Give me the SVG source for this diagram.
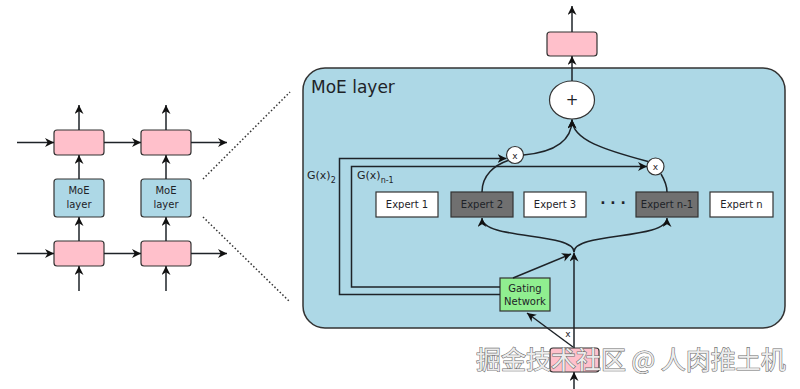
<svg xmlns="http://www.w3.org/2000/svg" width="800" height="389" viewBox="0 0 800 389">
<style>
  text { font-family: "DejaVu Sans", "Liberation Sans", sans-serif; fill: #1e2328; }
  .pink { fill: #ffc0cb; stroke: #333; stroke-width: 1.2; }
  .moe { fill: #add8e6; stroke: #333; stroke-width: 1.2; }
  .ln { fill: none; stroke: #1e2328; stroke-width: 1.5; }
  .dot { fill: none; stroke: #333; stroke-width: 1.5; stroke-dasharray: 1.5 2.2; }
  .exw { fill: #ffffff; stroke: #333; stroke-width: 1.2; }
  .exg { fill: #707070; stroke: #333; stroke-width: 1.2; }
  .circ { fill: #ffffff; stroke: #333; stroke-width: 1.2; }
  .t10 { font-size: 10px; text-anchor: middle; }
  .wm { font-family: "Noto Sans CJK SC", "DejaVu Sans", sans-serif; font-size: 25px; fill: #ececec; stroke: #6a6a6a; stroke-width: 1.1; paint-order: stroke; }
</style>
<defs>
  <marker id="ah" viewBox="0 0 10 10" refX="10" refY="5" markerWidth="9" markerHeight="9" markerUnits="userSpaceOnUse" orient="auto">
    <path d="M0,0 L10,5 L0,10 L3,5 z" fill="#111"/>
  </marker>
</defs>

<!-- big MoE layer container -->
<g id="moe-container">
  <rect x="303" y="68" width="482" height="260" rx="22" ry="22" fill="#add8e6" stroke="#333" stroke-width="1.5"/>
  <text x="311" y="93" style="font-size:17px">MoE layer</text>
</g>

<!-- left stack -->
<g id="left-top-1"><rect class="pink" x="54" y="130" width="50" height="25" rx="3"/></g>
<g id="left-top-2"><rect class="pink" x="141" y="130" width="50" height="25" rx="3"/></g>
<g id="left-moe-1"><rect class="moe" x="54" y="179" width="50" height="38" rx="3"/>
  <text class="t10" x="79" y="194">MoE</text><text class="t10" x="79" y="208">layer</text></g>
<g id="left-moe-2"><rect class="moe" x="141" y="179" width="50" height="38" rx="3"/>
  <text class="t10" x="166" y="194">MoE</text><text class="t10" x="166" y="208">layer</text></g>
<g id="left-bot-1"><rect class="pink" x="54" y="241" width="50" height="25" rx="3"/></g>
<g id="left-bot-2"><rect class="pink" x="141" y="241" width="50" height="25" rx="3"/></g>

<!-- right nodes -->
<g id="out-box"><rect class="pink" x="547" y="32" width="50" height="24" rx="3"/></g>
<g id="sum"><ellipse class="circ" cx="572" cy="100" rx="22.5" ry="19"/>
  <text x="572" y="105" style="font-size:15px;text-anchor:middle">+</text></g>
<g id="mul-2"><circle class="circ" cx="515" cy="155" r="8.5"/>
  <text x="515" y="158.5" style="font-size:9px;text-anchor:middle">x</text></g>
<g id="mul-n1"><circle class="circ" cx="655.5" cy="166.5" r="8.5"/>
  <text x="655.5" y="170" style="font-size:9px;text-anchor:middle">x</text></g>

<g id="expert-1"><rect class="exw" x="376" y="192" width="62" height="25"/><text class="t10" x="407" y="208">Expert 1</text></g>
<g id="expert-2"><rect class="exg" x="451" y="192" width="62" height="25"/><text class="t10" x="482" y="208">Expert 2</text></g>
<g id="expert-3"><rect class="exw" x="524" y="192" width="62" height="25"/><text class="t10" x="555" y="208">Expert 3</text></g>
<g id="dots"><text x="613" y="208" style="font-size:14px;font-weight:bold;text-anchor:middle">· · ·</text></g>
<g id="expert-n1"><rect class="exg" x="636" y="192" width="62" height="25"/><text class="t10" x="667" y="208">Expert n-1</text></g>
<g id="expert-n"><rect class="exw" x="710" y="192" width="63" height="25"/><text class="t10" x="741.5" y="208">Expert n</text></g>

<g id="gating"><rect x="500" y="278" width="50" height="33" fill="#90ee90" stroke="#333" stroke-width="1.2"/>
  <text class="t10" x="525" y="292">Gating</text><text class="t10" x="525" y="305">Network</text></g>

<g id="in-box"><rect class="pink" x="550" y="348" width="49" height="24" rx="3"/></g>

<!-- connectors -->
<g id="connectors">
  <!-- left rows -->
  <line class="ln" x1="17" y1="142.5" x2="54" y2="142.5" marker-end="url(#ah)"/>
  <line class="ln" x1="104" y1="142.5" x2="141" y2="142.5" marker-end="url(#ah)"/>
  <line class="ln" x1="191" y1="142.5" x2="227" y2="142.5" marker-end="url(#ah)"/>
  <line class="ln" x1="17" y1="253.5" x2="54" y2="253.5" marker-end="url(#ah)"/>
  <line class="ln" x1="104" y1="253.5" x2="141" y2="253.5" marker-end="url(#ah)"/>
  <line class="ln" x1="191" y1="253.5" x2="227" y2="253.5" marker-end="url(#ah)"/>
  <line class="ln" x1="79" y1="130" x2="79" y2="105" marker-end="url(#ah)"/>
  <line class="ln" x1="166" y1="130" x2="166" y2="105" marker-end="url(#ah)"/>
  <line class="ln" x1="79" y1="179" x2="79" y2="155" marker-end="url(#ah)"/>
  <line class="ln" x1="166" y1="179" x2="166" y2="155" marker-end="url(#ah)"/>
  <line class="ln" x1="79" y1="241" x2="79" y2="217" marker-end="url(#ah)"/>
  <line class="ln" x1="166" y1="241" x2="166" y2="217" marker-end="url(#ah)"/>
  <line class="ln" x1="79" y1="291" x2="79" y2="266" marker-end="url(#ah)"/>
  <line class="ln" x1="166" y1="291" x2="166" y2="266" marker-end="url(#ah)"/>
  <!-- zoom lines -->
  <line class="dot" x1="203" y1="179" x2="290" y2="92"/>
  <line class="dot" x1="203" y1="217" x2="290" y2="302"/>
  <!-- output -->
  <line class="ln" x1="572" y1="32" x2="572" y2="6" marker-end="url(#ah)"/>
  <line class="ln" x1="572" y1="81" x2="572" y2="56" marker-end="url(#ah)"/>
  <!-- to sum -->
  <path class="ln" d="M523.5,155 C556,152 572,140 572,119.5" marker-end="url(#ah)"/>
  <path class="ln" d="M648,161.5 C605,150 572,140 572,119.5" marker-end="url(#ah)"/>
  <!-- experts to multipliers -->
  <path class="ln" d="M482,192 C482,175 495,165 508,160.5"/>
  <path class="ln" d="M667,192 C667,184 664,179 661,174"/>
  <!-- gating weights -->
  <polyline class="ln" points="500,294.5 339.5,294.5 339.5,158.5 506.5,158.5" marker-end="url(#ah)"/>
  <polyline class="ln" points="500,287 351.5,287 351.5,166.5 647,166.5" marker-end="url(#ah)"/>
  <text x="307" y="179" style="font-size:11px">G(x)<tspan dy="4" style="font-size:8px">2</tspan></text>
  <text x="357" y="179" style="font-size:11px">G(x)<tspan dy="4" style="font-size:8px">n-1</tspan></text>
  <!-- input routing -->
  <line class="ln" x1="574" y1="389" x2="574" y2="372" marker-end="url(#ah)"/>
  <line class="ln" x1="574" y1="348" x2="574" y2="252.5" marker-end="url(#ah)"/>
  <line class="ln" x1="573" y1="347" x2="527" y2="313" marker-end="url(#ah)"/>
  <text x="568" y="336.5" style="font-size:9px;text-anchor:middle">x</text>
  <line class="ln" x1="513" y1="278" x2="571" y2="254" marker-end="url(#ah)"/>
  <path class="ln" d="M574,252 C574,232 482,240 482,218" marker-end="url(#ah)"/>
  <path class="ln" d="M574,252 C574,232 667,240 667,218" marker-end="url(#ah)"/>
</g>

<g id="watermark">
  <text class="wm" x="476" y="369">掘金技术社区 @ 人肉推土机</text>
</g>
</svg>
